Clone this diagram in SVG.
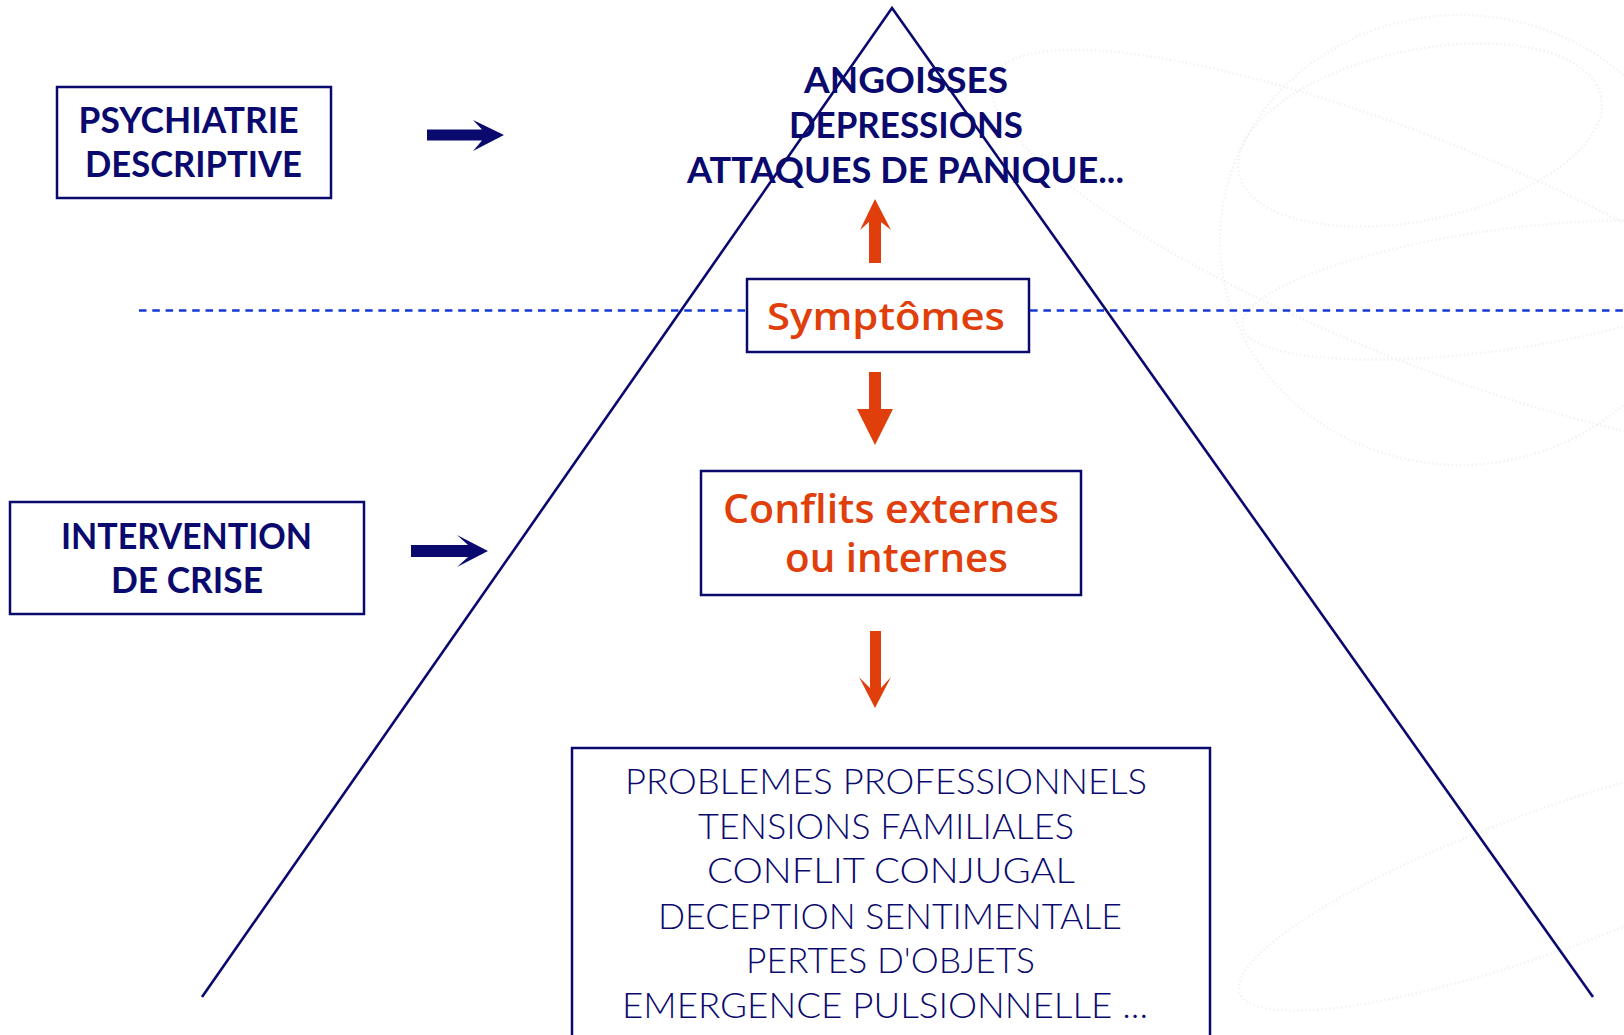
<svg xmlns="http://www.w3.org/2000/svg" width="1624" height="1035" viewBox="0 0 1624 1035">
<defs>
<style>
.bg{fill:none;stroke:#e6ece9;stroke-width:2.5;stroke-dasharray:1.5 2.5;opacity:.6}
.box{fill:#ffffff;stroke:#0a0a6e;stroke-width:2.5}
.tri{fill:none;stroke:#0a0a6e;stroke-width:2.6;stroke-linejoin:miter}
.dash{stroke:#1438d4;stroke-width:2.6;stroke-dasharray:7.5 5.8}
.navyArrow{fill:#0a0a6e}
.redArrow{fill:#e03e0a}
.h{font-family:Lato,"Liberation Sans",sans-serif;font-weight:700;font-size:36px;fill:#0a0a6e}
.r{font-family:"Open Sans",Lato,"Liberation Sans",sans-serif;font-weight:600;fill:#e03e0a}
.b{font-family:Lato,"Liberation Sans",sans-serif;font-weight:300;font-size:36px;fill:#0a0a6e}
</style>
</defs>
<rect width="1624" height="1035" fill="#ffffff"/>
<g id="background">
<ellipse class="bg" cx="1460" cy="240" rx="240" ry="225"/>
<ellipse class="bg" cx="1420" cy="135" rx="185" ry="85" transform="rotate(-12 1420 135)"/>
<ellipse class="bg" cx="1420" cy="250" rx="460" ry="110" transform="rotate(22 1420 250)"/>
<ellipse class="bg" cx="1500" cy="290" rx="260" ry="60" transform="rotate(-8 1500 290)"/>
<ellipse class="bg" cx="1550" cy="880" rx="330" ry="70" transform="rotate(-20 1550 880)"/>
</g>
<g id="connectors">
<line class="dash" x1="139" y1="310.5" x2="1624" y2="310.5"/>
<polyline class="tri" points="202,997 892,8 1593,997"/>
<polygon class="navyArrow" points="427,129.5 482,129.5 473,120 504,135 473,151 482,140.5 427,140.5"/>
<polygon class="navyArrow" points="411,545 468,545 457,535 488,551 457,567 468,557 411,557"/>
<polygon class="redArrow" points="869,263 869,222 860,230 875,199 891,230 881,222 881,263"/>
<polygon class="redArrow" points="869,372 881,372 881,409 893,409 875,445 857,409 869,409"/>
<polygon class="redArrow" points="870,631 881,631 881,688 891,677 875,708 859,677 870,688"/>
</g>
<g id="node-psychiatrie">
<rect class="box" x="57" y="87" width="274" height="111"/>
<text class="h" x="78.5" y="133" textLength="220" lengthAdjust="spacingAndGlyphs">PSYCHIATRIE</text>
<text class="h" x="85" y="177" textLength="217" lengthAdjust="spacingAndGlyphs">DESCRIPTIVE</text>
</g>
<g id="node-intervention">
<rect class="box" x="10" y="502" width="354" height="112"/>
<text class="h" x="61" y="549" textLength="251" lengthAdjust="spacingAndGlyphs">INTERVENTION</text>
<text class="h" x="111" y="593" textLength="152" lengthAdjust="spacingAndGlyphs">DE CRISE</text>
</g>
<g id="node-symptoms-list">
<text class="h" x="804" y="93" textLength="204" lengthAdjust="spacingAndGlyphs">ANGOISSES</text>
<text class="h" x="789" y="138" textLength="234" lengthAdjust="spacingAndGlyphs">DEPRESSIONS</text>
<text class="h" x="687" y="183" textLength="437" lengthAdjust="spacingAndGlyphs">ATTAQUES DE PANIQUE...</text>
</g>
<g id="node-symptomes">
<rect class="box" x="747" y="279" width="282" height="73"/>
<text class="r" x="767" y="330" font-size="38" textLength="238" lengthAdjust="spacingAndGlyphs">Symptômes</text>
</g>
<g id="node-conflits">
<rect class="box" x="701" y="471" width="380" height="124"/>
<text class="r" x="723" y="523" font-size="39" textLength="336" lengthAdjust="spacingAndGlyphs">Conflits externes</text>
<text class="r" x="785" y="572" font-size="39" textLength="223" lengthAdjust="spacingAndGlyphs">ou internes</text>
</g>
<g id="node-causes">
<rect class="box" x="572" y="748" width="638" height="300"/>
<text class="b" x="625" y="794" textLength="522" lengthAdjust="spacingAndGlyphs">PROBLEMES PROFESSIONNELS</text>
<text class="b" x="698" y="839" textLength="376" lengthAdjust="spacingAndGlyphs">TENSIONS FAMILIALES</text>
<text class="b" x="707" y="883" textLength="368" lengthAdjust="spacingAndGlyphs">CONFLIT CONJUGAL</text>
<text class="b" x="658" y="929" textLength="464" lengthAdjust="spacingAndGlyphs">DECEPTION SENTIMENTALE</text>
<text class="b" x="746" y="973" textLength="289" lengthAdjust="spacingAndGlyphs">PERTES D'OBJETS</text>
<text class="b" x="622" y="1018" textLength="526" lengthAdjust="spacingAndGlyphs">EMERGENCE PULSIONNELLE ...</text>
</g>
</svg>
